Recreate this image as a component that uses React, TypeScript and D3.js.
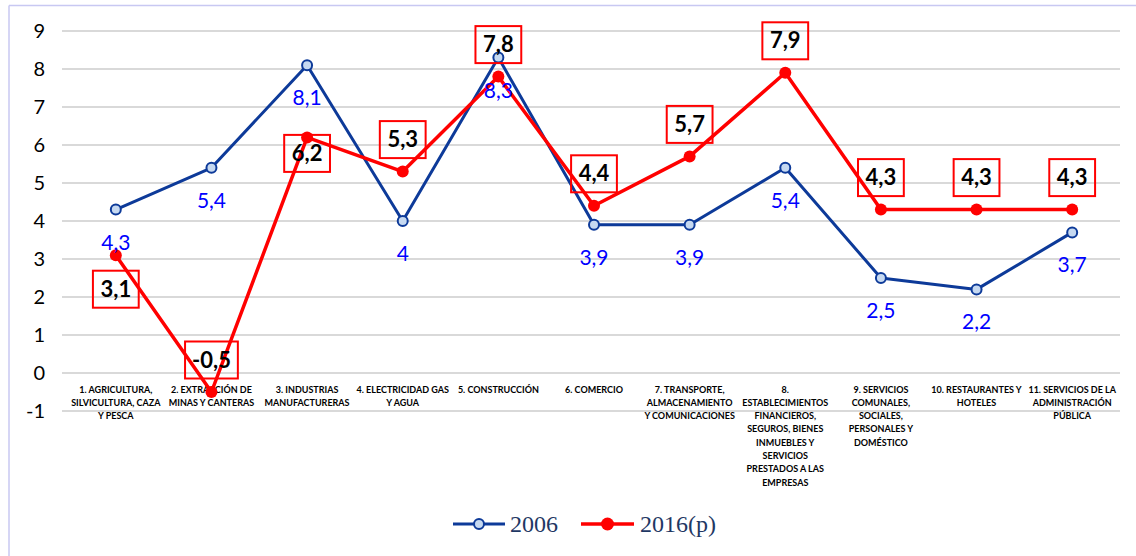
import React from "react";
import * as d3 from "d3";

const categories: string[][] = [
  ["1. AGRICULTURA,", "SILVICULTURA, CAZA", "Y PESCA"],
  ["2. EXTRACCIÓN DE", "MINAS Y CANTERAS"],
  ["3. INDUSTRIAS", "MANUFACTURERAS"],
  ["4. ELECTRICIDAD GAS", "Y AGUA"],
  ["5. CONSTRUCCIÓN"],
  ["6. COMERCIO"],
  ["7. TRANSPORTE,", "ALMACENAMIENTO", "Y COMUNICACIONES"],
  ["8.", "ESTABLECIMIENTOS", "FINANCIEROS,", "SEGUROS, BIENES", "INMUEBLES Y", "SERVICIOS", "PRESTADOS A LAS", "EMPRESAS"],
  ["9. SERVICIOS", "COMUNALES,", "SOCIALES,", "PERSONALES Y", "DOMÉSTICO"],
  ["10. RESTAURANTES Y", "HOTELES"],
  ["11. SERVICIOS DE LA", "ADMINISTRACIÓN", "PÚBLICA"],
];

const values2006: number[] = [4.3, 5.4, 8.1, 4.0, 8.3, 3.9, 3.9, 5.4, 2.5, 2.2, 3.7];
const values2016: number[] = [3.1, -0.5, 6.2, 5.3, 7.8, 4.4, 5.7, 7.9, 4.3, 4.3, 4.3];
const yTicks: number[] = [-1, 0, 1, 2, 3, 4, 5, 6, 7, 8, 9];
const seriesNames: string[] = ["2006", "2016(p)"];

// label placement for 2016 boxes (style): "above", "below", "belowNear"
const boxPlacement: string[] = ["below", "above", "belowNear", "above", "above", "above", "above", "above", "above", "above", "above"];

const fmt = (v: number) => String(v).replace(".", ",");

export default function App() {
  const W = 1136, H = 556;
  const idx = d3.range(categories.length).map(String);
  const x = d3.scaleBand<string>().domain(idx).range([68, 1120]);
  const cx = (i: number) => (x(String(i)) as number) + x.bandwidth() / 2;
  const y = d3.scaleLinear().domain([-1, 9]).range([411, 31]);

  const line = d3.line<number>().x((_, i) => cx(i)).y((d) => y(d));

  const blue = "#0d3a99";
  const red = "#ff0000";
  const font = "Lato, 'Open Sans', sans-serif";

  return (
    <svg width={W} height={H} style={{ position: "absolute", left: 0, top: 0, background: "#fff" }}>
      <rect x={0} y={0} width={W} height={H} fill="#fff" />
      {/* outer border */}
      <line x1={9} y1={5.5} x2={W} y2={5.5} stroke="#c8c8f2" strokeWidth={1.5} />
      <line x1={9} y1={5.5} x2={9} y2={H} stroke="#c8c8f2" strokeWidth={1.5} />

      {/* gridlines */}
      {yTicks.map((t) => (
        <line key={t} x1={62} x2={1120} y1={y(t)} y2={y(t)} stroke="#d9d9d9" strokeWidth={1.8} />
      ))}
      {/* y tick labels */}
      {yTicks.map((t) => (
        <text key={"t" + t} x={45} y={y(t) + 7} textAnchor="end" fontSize={20} fontFamily={font} fill="#000">
          {t}
        </text>
      ))}

      {/* category labels */}
      {categories.map((lines, i) => (
        <text key={"c" + i} textAnchor="middle" fontSize={9} fontWeight="bold" fontFamily={font} fill="#000">
          {lines.map((l, j) => (
            <tspan key={j} x={cx(i)} y={392.5 + j * 13.3}>{l}</tspan>
          ))}
        </text>
      ))}

      {/* 2006 series */}
      <path d={line(values2006) || ""} fill="none" stroke={blue} strokeWidth={3} strokeLinejoin="round" />
      {values2006.map((v, i) => (
        <circle key={"b" + i} cx={cx(i)} cy={y(v)} r={5} fill="#c6d9f1" stroke={blue} strokeWidth={2} />
      ))}

      {/* 2016 series */}
      <path d={line(values2016) || ""} fill="none" stroke={red} strokeWidth={3.5} strokeLinejoin="round" />
      {values2016.map((v, i) => (
        <circle key={"r" + i} cx={cx(i)} cy={y(v)} r={6} fill={red} />
      ))}

      {/* 2006 labels */}
      {values2006.map((v, i) => (
        <text key={"bl" + i} x={cx(i)} y={y(v) + 33 + 7} textAnchor="middle" fontSize={21} fontFamily={font} fill="#0000ff">
          {fmt(v)}
        </text>
      ))}

      {/* 2016 labels with boxes */}
      {values2016.map((v, i) => {
        const s = fmt(v);
        const off = boxPlacement[i] === "above" ? -32 : boxPlacement[i] === "below" ? 34 : 16;
        const cy = y(v) + off;
        const w = 18 + 11.1 * (s.replace(/[-,]/g, "").length) + 5.6 + (s.startsWith("-") ? 7 : 0);
        return (
          <g key={"rl" + i}>
            <rect x={cx(i) - w / 2} y={cy - 18.5} width={w} height={37} fill="none" stroke={red} strokeWidth={2} />
            <text x={cx(i)} y={cy + 7.5} textAnchor="middle" fontSize={22} fontWeight="bold" fontFamily={font} fill="#000">
              {s}
            </text>
          </g>
        );
      })}

      {/* legend */}
      <g>
        <line x1={453} x2={505} y1={524} y2={524} stroke={blue} strokeWidth={3} />
        <circle cx={479} cy={524} r={5} fill="#c6d9f1" stroke={blue} strokeWidth={2} />
        <text x={510} y={532} fontSize={24} fontFamily="'Liberation Serif', 'Times New Roman', serif" fill="#1f3864">{seriesNames[0]}</text>
        <line x1={581} x2={634} y1={524} y2={524} stroke={red} strokeWidth={3.5} />
        <circle cx={607.5} cy={524} r={6.5} fill={red} />
        <text x={640} y={532} fontSize={24} fontFamily="'Liberation Serif', 'Times New Roman', serif" fill="#1f3864">{seriesNames[1]}</text>
      </g>
    </svg>
  );
}
